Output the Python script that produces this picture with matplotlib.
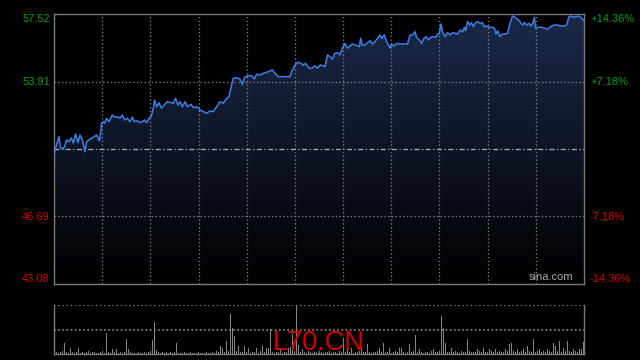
import numpy as np
import matplotlib.pyplot as plt
from matplotlib.colors import LinearSegmentedColormap

plt.rcParams['font.family'] = ['Liberation Sans', 'DejaVu Sans']

symbol = "L70.CN"
prev_close = 50.30
price_hi, price_lo = 57.52, 43.08
grid_prices = [53.91, 46.69]
left_labels = [(57.52, "57.52"), (53.91, "53.91"), (46.69, "46.69"), (43.08, "43.08")]
right_labels = ["+14.36%", "+7.18%", "-7.18%", "-14.36%"]
last_minute = 265

# intraday trace (minute, price)
minutes = [
    0, 0.8, 2.5, 3.3, 5, 6.3, 7.5, 8.7, 9.7, 10.8, 12, 13, 14.2, 15.5, 16.3, 18, 19.7, 21.3,
    22.8, 23.8, 24.7, 25.3, 26.3, 27.5, 29.2, 30.3, 31.7, 33, 34.2, 35.3, 36.7, 38, 39.2, 40.3,
    41.7, 43, 44.2, 45.3, 46.3, 47.5, 48.7, 49.7, 50.3, 51.3, 52.5, 53.7, 55, 56.7, 58.3, 59.7,
    60.8, 62, 63, 64.2,
    65.5, 66.8, 68.5, 69.7, 71.3, 73, 74.7, 76.3, 78, 79.7, 81.3, 83, 84.7, 86.3, 87.5, 88.8,
    89.7, 91.3, 93, 94.2, 95.2, 96.8, 98.8, 100.2, 101.3, 103, 104.7, 106.3, 108, 109.2, 110.5,
    112.2, 115.5, 118, 119.2, 120.5, 121.8, 123.5, 124.7, 125.8, 127.5, 128.8,
    130.5, 131.8, 133, 134.7, 135.5, 136.7, 138, 139.2, 140.5, 141.8, 143, 144.2, 145.5, 146.7,
    148, 149.2, 150.5, 151.8, 152.7, 153.3, 154.2, 155.5, 156.8, 158, 159.2, 160.5, 161.8, 163,
    163.8, 165.2, 166, 166.8, 168, 168.8, 170, 171.3, 172.5, 174.7, 176.8, 178, 179.3, 180.5,
    181.3, 182.7, 183.8, 185, 186, 187.2, 188.3, 189.7, 190.8, 191.8, 192.7, 193.5, 194.3,
    195.5, 196.8, 198, 199.2, 200.5, 201.8, 203, 204.2, 205.2, 205.8, 206.8, 208, 208.8, 209.7,
    210.8, 211.8, 213, 214.2, 215.2, 216.3, 217.5, 218.8, 220.2, 221, 221.8, 223, 224.2, 225.5,
    226.8, 227.5, 228.5, 229.3, 230.5, 231.8, 233, 234.2, 235.2, 236.3, 237.5, 238.5, 239.3,
    240.2, 240.8, 242.2, 243.8, 245.5, 246.8, 248, 249.7, 251.8, 253.5, 255.2, 256.3, 257.5,
    258.5, 259.7, 260.8, 262.2, 263.5, 264.7, 265,
]
prices = [
    49.98, 50.35, 50.96, 50.35, 50.35, 50.78, 50.69, 50.89, 50.62, 51.10, 50.64, 51.05, 50.78,
    50.16, 50.69, 50.82, 50.93, 51.05, 50.74, 51.68, 51.76, 51.68, 51.94, 51.76, 52.12, 52.00,
    52.03, 51.94, 52.12, 51.85, 51.94, 51.76, 52.00, 51.76, 51.81, 51.71, 51.76, 51.85, 51.71,
    51.94, 52.07, 52.48, 52.92, 52.56, 52.78, 52.48, 52.65, 52.83, 52.78, 52.75, 53.01, 52.65,
    52.83, 52.56,
    52.83, 52.56, 52.69, 52.51, 52.56, 52.39, 52.30, 52.21, 52.33, 52.30, 52.56, 52.83, 52.75,
    53.01, 53.10, 53.72, 54.08, 54.11, 54.04, 53.76, 54.11, 54.22, 54.22, 54.04, 54.30, 54.26,
    54.35, 54.40, 54.47, 54.53, 54.35, 54.17, 54.17, 54.17, 54.53, 54.79, 54.94, 54.88, 54.79,
    54.88, 54.62, 54.62,
    54.74, 54.62, 54.79, 54.74, 54.70, 55.33, 55.24, 55.10, 55.42, 55.45, 55.33, 55.69, 55.95,
    55.69, 55.81, 55.92, 55.86, 55.81, 55.77, 56.22, 55.86, 55.86, 55.99, 56.09, 55.92, 56.04,
    56.22, 56.40, 56.22, 56.40, 56.13, 55.95, 55.69, 55.92, 55.81, 55.95, 55.92, 55.92, 55.92,
    56.40, 56.40, 56.57, 56.27, 56.13, 55.95, 56.22, 56.31, 56.13, 56.27, 56.31, 56.27, 56.45,
    56.49, 56.99, 56.57,
    56.31, 56.52, 56.40, 56.52, 56.49, 56.45, 56.66, 56.57, 56.81, 56.63, 57.11, 56.93, 57.06,
    56.84, 57.06, 57.11, 57.02, 57.06, 56.84, 56.88, 56.81, 56.81, 56.76, 56.45, 56.63, 56.31,
    56.45, 56.45, 56.49, 56.84, 57.20, 57.41, 57.34, 57.24, 57.11, 56.93, 57.06, 56.93, 57.02,
    56.88, 57.02, 57.34, 56.76, 56.81, 56.81, 56.76, 56.70, 56.81, 56.93, 56.93, 56.88, 56.88,
    56.93, 57.38, 57.41, 57.34, 57.38, 57.41, 57.34, 57.20, 57.16,
]

# volume per minute (0..265), relative units
volume = [
    370, 40, 30, 50, 60, 220, 40, 30, 130, 50,
    30, 40, 120, 30, 50, 20, 40, 60, 30, 40,
    50, 30, 20, 40, 60, 30, 420, 40, 30, 110,
    40, 100, 30, 50, 20, 40, 300, 110, 40, 30,
    20, 30, 40, 20, 30, 50, 30, 40, 60, 290,
    650, 80, 40, 30, 50, 30, 40, 20, 50, 30,
    40, 220, 30, 20, 30, 40, 20, 30, 40, 20,
    30, 20, 40, 30, 20, 30, 40, 30, 20, 50,
    30, 60, 40, 160, 120, 40, 270, 60, 820, 540,
    370, 60, 170, 40, 50, 170, 40, 120, 30, 50,
    40, 120, 30, 60, 170, 40, 130, 130, 520, 40,
    30, 50, 40, 120, 30, 40, 50, 120, 140, 400,
    60, 1000, 180, 50, 100, 40, 30, 60, 40, 30,
    50, 40, 30, 60, 40, 30, 50, 40, 60, 30,
    40, 50, 30, 60, 40, 320, 50, 130, 40, 120,
    30, 50, 40, 60, 120, 40, 50, 210, 40, 30,
    50, 40, 60, 130, 40, 230, 50, 40, 120, 30,
    40, 60, 50, 130, 120, 40, 30, 50, 200, 40,
    60, 380, 50, 100, 40, 30, 50, 40, 30, 60,
    100, 40, 50, 60, 780, 530, 230, 50, 40, 130,
    40, 60, 50, 30, 60, 40, 50, 300, 60, 40,
    50, 40, 110, 60, 40, 130, 50, 40, 110, 60,
    40, 100, 50, 60, 40, 50, 110, 60, 200, 230,
    60, 40, 110, 50, 60, 100, 40, 170, 60, 50,
    310, 40, 60, 110, 50, 60, 40, 110, 60, 50,
    230, 170, 60, 270, 50, 130, 60, 270, 60, 50,
    100, 60, 50, 110, 100, 250,
]
vol_max = 1000

green = '#0aa00a'
red = '#d40000'
frame = '#7a7a7a'
grid_c = '#8c8c8c'

fig = plt.figure(figsize=(6.4, 3.6), dpi=100, facecolor='black')

# price panel
ax = fig.add_axes([54 / 640, 76 / 360, 530 / 640, 270 / 360])
ax.set_facecolor('black')

fill = ax.fill_between(minutes, prices, price_lo, color='none', lw=0)
cmap = LinearSegmentedColormap.from_list('navy', ['#000000', '#1b2a4a'])
grad = np.linspace(1, 0, 256).reshape(-1, 1)
img = ax.imshow(grad, cmap=cmap, aspect='auto', origin='upper',
                extent=[0, last_minute, price_lo, price_hi], zorder=1)
img.set_clip_path(fill.get_paths()[0], transform=ax.transData)
ax.plot(minutes, prices, color='#3d7fe6', lw=1.1, zorder=4)

for gp in grid_prices:
    ax.axhline(gp, color=grid_c, lw=0.9, ls=(0, (1, 2)), zorder=3)
for k in range(1, 11):
    ax.axvline(last_minute * k / 11, color=grid_c, lw=0.9, ls=(0, (1, 2)), zorder=3)
ax.axhline(prev_close, color='#b0b0b0', lw=0.9, ls=(0, (4, 2, 1, 2)), zorder=3)

ax.set_xlim(0, last_minute)
ax.set_ylim(price_lo, price_hi)
ax.set_xticks([])
ax.set_yticks([])
for s in ax.spines.values():
    s.set_color(frame)
    s.set_linewidth(1)

tr = ax.get_yaxis_transform()
vas = ['top', 'center', 'center', 'bottom']
for (val, txt), pct, va in zip(left_labels, right_labels, vas):
    c = green if val > prev_close else red
    ax.text(-4 / 530, val, txt, transform=tr, ha='right', va=va, color=c, fontsize=8)
    ax.text(1 + 6 / 530, val, pct, transform=tr, ha='left', va=va, color=c, fontsize=8)

ax.text(0.979, 0.006, 'sina.com', transform=ax.transAxes, ha='right', va='bottom',
        color='#a8a8a8', fontsize=8, zorder=6)

# volume panel
vx = fig.add_axes([54 / 640, 6 / 360, 530 / 640, 49 / 360])
vx.set_facecolor('black')
vx.bar(np.arange(len(volume)), volume, width=0.5, color='#858585', lw=0)
vx.set_xlim(-0.5, last_minute + 0.5)
vx.set_ylim(0, vol_max)
vx.axhline(vol_max, color=grid_c, lw=1.2, ls=(0, (1, 1.5)))
vx.axhline(vol_max * 0.49, color=grid_c, lw=1.2, ls=(0, (1, 1.5)))
vx.set_xticks([])
vx.set_yticks([])
for name, s in vx.spines.items():
    s.set_color(frame)
    s.set_linewidth(1)
vx.spines['top'].set_visible(False)

fig.text(319 / 640, 10 / 360, symbol, ha='center', va='baseline', color='#d40000',
         fontsize=19.5, zorder=10)

fig.savefig('out.png', dpi=100, facecolor='black')
